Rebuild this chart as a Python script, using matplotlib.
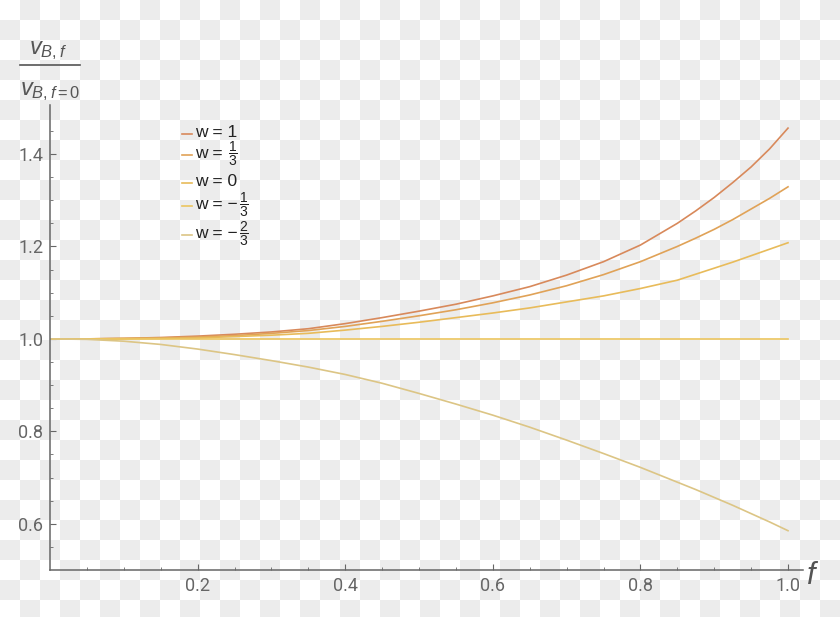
import numpy as np
import matplotlib
matplotlib.use("Agg")
import matplotlib.pyplot as plt
from matplotlib.lines import Line2D

# ================================
# Data
# ================================
f_vals = [0.0, 0.05, 0.1, 0.15, 0.2, 0.25, 0.3, 0.35, 0.4, 0.45, 0.5,
          0.55, 0.6, 0.65, 0.7, 0.75, 0.8, 0.85, 0.875, 0.9, 0.925, 0.95, 0.975, 1.0]

ratio_w1 = [1.0, 1.0, 1.001, 1.003, 1.006, 1.010, 1.015, 1.022, 1.033, 1.046, 1.060,
            1.075, 1.093, 1.113, 1.138, 1.167, 1.203, 1.250, 1.277, 1.306, 1.338,
            1.372, 1.411, 1.456]
ratio_w13 = [1.0, 1.0, 1.001, 1.002, 1.004, 1.007, 1.012, 1.018, 1.027, 1.038, 1.050,
             1.063, 1.078, 1.095, 1.115, 1.139, 1.167, 1.200, 1.218, 1.237, 1.258,
             1.281, 1.304, 1.329]
ratio_w0 = [1.0, 1.0, 1.0005, 1.001, 1.002, 1.005, 1.008, 1.012, 1.019, 1.027, 1.036,
            1.046, 1.056, 1.067, 1.080, 1.093, 1.109, 1.127, 1.140, 1.153, 1.166,
            1.180, 1.194, 1.208]
ratio_wm13 = [1.0] * len(f_vals)
ratio_wm23 = [1.0, 0.999, 0.995, 0.988, 0.978, 0.966, 0.953, 0.939, 0.923, 0.904, 0.882,
              0.859, 0.835, 0.809, 0.781, 0.752, 0.722, 0.690, 0.674, 0.657, 0.640,
              0.622, 0.604, 0.585]

series = [ratio_w1, ratio_w13, ratio_w0, ratio_wm13, ratio_wm23]
# legend labels: plain part + stacked fraction part (Mathematica style)
label_text = ["w = 1", "w = ", "w = 0", "w = \u2212", "w = \u2212"]
label_frac = [None, r"$\dfrac{1}{3}$", None, r"$\dfrac{1}{3}$", r"$\dfrac{2}{3}$"]
colors = ["#d8895b", "#e0a257", "#e8bb5a", "#ebc55f", "#dcc585"]

x_ticks = [0.2, 0.4, 0.6, 0.8, 1.0]
y_ticks = [0.6, 0.8, 1.0, 1.2, 1.4]

plt.rcParams["mathtext.fontset"] = "custom"
plt.rcParams["mathtext.rm"] = "Liberation Sans"
plt.rcParams["mathtext.it"] = "Liberation Sans:italic"
plt.rcParams["mathtext.bf"] = "Liberation Sans:bold"

W, H = 840, 617
fig = plt.figure(figsize=(W / 100, H / 100), dpi=100)
fig.patch.set_facecolor("white")

# checkerboard backdrop (transparent png look)
bg = fig.add_axes([0, 0, 1, 1], zorder=-10)
ii, jj = np.meshgrid(np.arange(42), np.arange(31))
bg.imshow((ii + jj) % 2, cmap=matplotlib.colors.ListedColormap(["#ffffff", "#ececec"]),
          extent=(0, 840, 620, 0), interpolation="nearest", aspect="auto")
bg.set_xlim(0, W)
bg.set_ylim(H, 0)
bg.axis("off")

# ================================
# Main axes
# ================================
ax = fig.add_axes([50 / W, 1 - 570 / H, (803 - 50) / W, (570 - 105) / H])
ax.set_facecolor("none")

for vals, col in zip(series, colors):
    ax.plot(f_vals, vals, color=col, lw=1.2)

ax.set_xlim(0, 1.0203)
ax.set_ylim(0.5, 1.506)

for s in ["top", "right"]:
    ax.spines[s].set_visible(False)
for s in ["left", "bottom"]:
    ax.spines[s].set_color("#666666")
    ax.spines[s].set_linewidth(1.1)

ax.set_xticks(x_ticks)
ax.set_yticks(y_ticks)
ax.set_xticklabels([f"{v:.1f}" for v in x_ticks])
ax.set_yticklabels([f"{v:.1f}" for v in y_ticks])
ax.set_xticks(np.arange(0.05, 1.01, 0.05), minor=True)
ax.set_yticks(np.arange(0.55, 1.5, 0.05), minor=True)
ax.tick_params(which="major", direction="in", length=4, width=0.8, color="#666666",
               labelcolor="#666666", labelsize=13, pad=5)
ax.tick_params(which="minor", direction="in", length=2.5, width=0.6, color="#666666")
for lbl in ax.get_xticklabels() + ax.get_yticklabels():
    lbl.set_family(["Roboto", "DejaVu Sans"])

# axis labels
fig.text(806 / W, 1 - 576 / H, r"$f$", fontsize=22, color="#555555",
         ha="left", va="center")
fig.text(48 / W, 1 - 50 / H, r"$v_{B,f}$", fontsize=17, color="#555555",
         ha="center", va="center")
fig.text(50 / W, 1 - 91 / H, r"$v_{B,f=0}$", fontsize=17, color="#555555",
         ha="center", va="center")
fig.add_artist(Line2D([20 / W, 80 / W], [1 - 65 / H, 1 - 65 / H],
                      color="#555555", lw=1.2, transform=fig.transFigure))

# ================================
# Legend, placed row by row like the original
# ================================
row_baselines = [137, 158, 186, 209, 238]
fig.canvas.draw()
renderer = fig.canvas.get_renderer()
for txt, frac, col, yb in zip(label_text, label_frac, colors, row_baselines):
    fig.add_artist(Line2D([182 / W, 192 / W], [1 - (yb - 3) / H] * 2, color=col,
                          lw=1.2, transform=fig.transFigure))
    t = fig.text(195 / W, 1 - yb / H, txt, fontsize=12.5, color="#222222",
                 family="Liberation Sans", ha="left", va="baseline")
    if frac:
        x_end = t.get_window_extent(renderer).x1
        fig.text((x_end + 1) / W, 1 - (yb - 4) / H, frac, fontsize=10,
                 color="#222222", ha="left", va="center")

fig.savefig("out.png", dpi=100)
